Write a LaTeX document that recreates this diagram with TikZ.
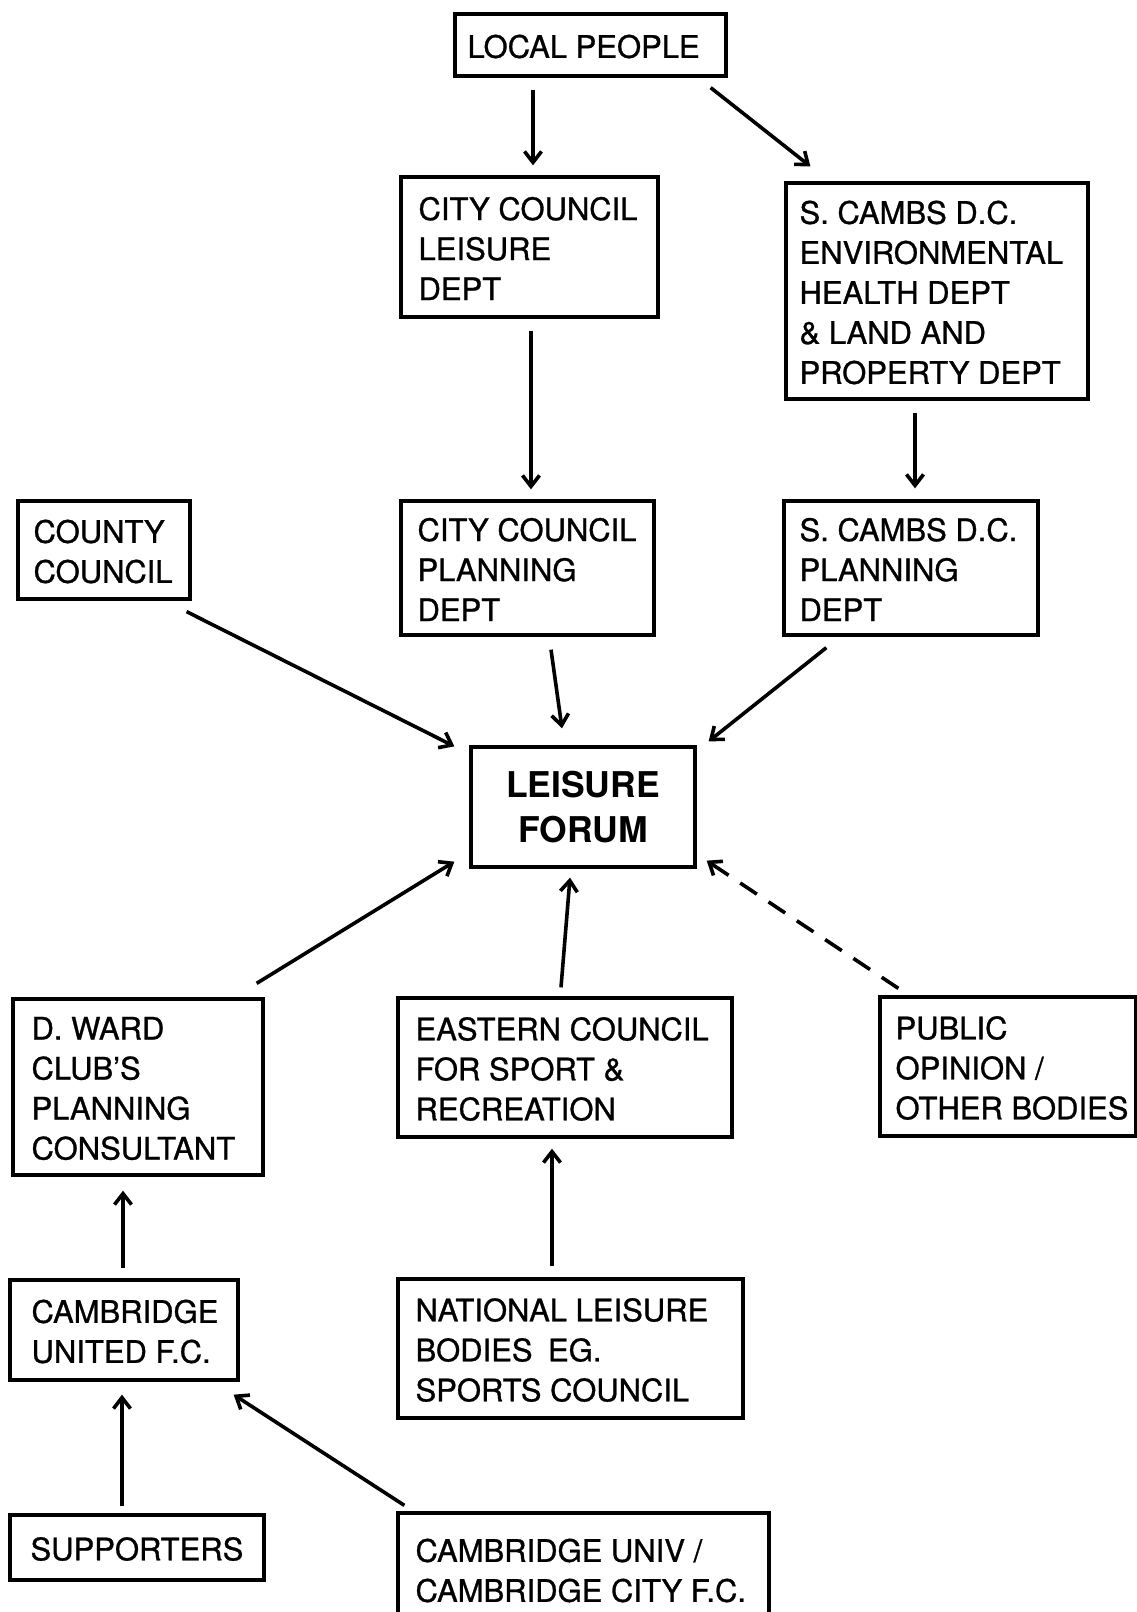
\documentclass[tikz,border=0pt]{standalone}
\usepackage{fontspec}
\setmainfont{TeX Gyre Heros}
\newfontfamily\boxfont{TeX Gyre Heros}[FakeBold=0.9]
\usetikzlibrary{arrows.meta}
\begin{document}
\begin{tikzpicture}[x=1pt,y=-1pt,
  box/.style={draw, line width=3.3pt, rectangle, inner sep=0pt},
  txt/.style={anchor=west, inner sep=0pt, align=left, yshift=-1.5pt,
              font=\boxfont\fontsize{31pt}{40pt}\selectfont},
  arr/.style={line width=3.6pt, -{Straight Barb[length=11pt,width=17pt]}},
  dasharr/.style={arr, dash pattern=on 20pt off 14pt}]
\useasboundingbox (0,0) rectangle (1137,1612);
\fill[white] (0,0) rectangle (1137,1612);
\clip (0,0) rectangle (1137,1612);

% boxes
\node[box, minimum width=271pt, minimum height=62pt] (local) at (590.5,45) {};
\node[txt] (local-t) at ([xshift=14pt]local.west) {LOCAL PEOPLE};

\node[box, minimum width=257pt, minimum height=140pt] (cityleisure) at (529.5,247) {};
\node[txt] (cityleisure-t) at ([xshift=19pt]cityleisure.west) {CITY COUNCIL\\LEISURE\\DEPT};

\node[box, minimum width=302pt, minimum height=216pt] (scambsenv) at (937,291) {};
\node[txt] (scambsenv-t) at ([xshift=15pt]scambsenv.west) {S. CAMBS D.C.\\ENVIRONMENTAL\\HEALTH DEPT\\\& LAND AND\\PROPERTY DEPT};

\node[box, minimum width=172pt, minimum height=98pt] (county) at (104,550) {};
\node[txt] (county-t) at ([xshift=17pt]county.west) {COUNTY\\COUNCIL};

\node[box, minimum width=253pt, minimum height=134pt] (cityplan) at (527.5,568) {};
\node[txt] (cityplan-t) at ([xshift=18pt]cityplan.west) {CITY COUNCIL\\PLANNING\\DEPT};

\node[box, minimum width=254pt, minimum height=134pt] (scambsplan) at (911,568) {};
\node[txt] (scambsplan-t) at ([xshift=17pt]scambsplan.west) {S. CAMBS D.C.\\PLANNING\\DEPT};

\node[box, minimum width=224pt, minimum height=120pt, align=center,
      font=\bfseries\fontsize{35.5pt}{45pt}\selectfont] (forum) at (583,807) {LEISURE\\FORUM};

\node[box, minimum width=250pt, minimum height=176pt] (dward) at (138,1087) {};
\node[txt] (dward-t) at ([xshift=20pt]dward.west) {D. WARD\\CLUB’S\\PLANNING\\CONSULTANT};

\node[box, minimum width=334pt, minimum height=139pt] (eastern) at (565,1067.5) {};
\node[txt] (eastern-t) at ([xshift=19pt]eastern.west) {EASTERN COUNCIL\\FOR SPORT \&\\RECREATION};

\node[box, minimum width=256pt, minimum height=139pt] (public) at (1008,1066.5) {};
\node[txt] (public-t) at ([xshift=17pt]public.west) {PUBLIC\\OPINION /\\OTHER BODIES};

\node[box, minimum width=228pt, minimum height=100pt] (camunited) at (124,1330) {};
\node[txt] (camunited-t) at ([xshift=23pt]camunited.west) {CAMBRIDGE\\UNITED F.C.};

\node[box, minimum width=345pt, minimum height=139pt] (national) at (570.5,1348.5) {};
\node[txt] (national-t) at ([xshift=19pt]national.west) {NATIONAL LEISURE\\BODIES\enspace EG.\\SPORTS COUNCIL};

\node[box, minimum width=254pt, minimum height=65pt] (supporters) at (137,1547.5) {};
\node[txt] (supporters-t) at ([xshift=22pt]supporters.west) {SUPPORTERS};

\node[box, minimum width=371pt, minimum height=112pt] (camuniv) at (583.5,1569) {};
\node[txt] (camuniv-t) at ([xshift=19pt]camuniv.west) {CAMBRIDGE UNIV /\\CAMBRIDGE CITY F.C.};

% connectors
\draw[arr] ([shift={(-57.5,12)}]local.south) -- ([shift={(3.5,-10)}]cityleisure.north);
\draw[arr] ([shift={(-17,10)}]local.south east) -- ([shift={(26,-15)}]scambsenv.north west);
\draw[arr] ([shift={(1.5,12)}]cityleisure.south) -- ([shift={(3.5,-10)}]cityplan.north);
\draw[arr] ([shift={(-22,12)}]scambsenv.south) -- ([shift={(4,-11)}]scambsplan.north);
\draw[arr] ([shift={(-5,11)}]county.south east) -- ([shift={(-15,1)}]forum.north west);
\draw[arr] ([shift={(23.5,13)}]cityplan.south) -- ([shift={(-21,-17)}]forum.north);
\draw[arr] ([shift={(44,11)}]scambsplan.south west) -- ([shift={(12,-4)}]forum.north east);
\draw[arr] ([shift={(-8,-14)}]dward.north east) -- ([shift={(-15,-7)}]forum.south west);
\draw[arr] ([shift={(-4,-9)}]eastern.north) -- ([shift={(-13,9)}]forum.south);
\draw[dasharr] ([shift={(20,-7)}]public.north west) -- ([shift={(10,-8)}]forum.south east);
\draw[arr] ([shift={(-18.5,-11)}]national.north) -- ([shift={(-13,10)}]eastern.south);
\draw[arr] ([shift={(-1,-10)}]camunited.north) -- ([shift={(-15,14)}]dward.south);
\draw[arr] ([shift={(-15,-7)}]supporters.north) -- ([shift={(-2,13)}]camunited.south);
\draw[arr] ([shift={(8,-6)}]camuniv.north west) -- ([shift={(-6,13)}]camunited.south east);
\end{tikzpicture}
\end{document}
